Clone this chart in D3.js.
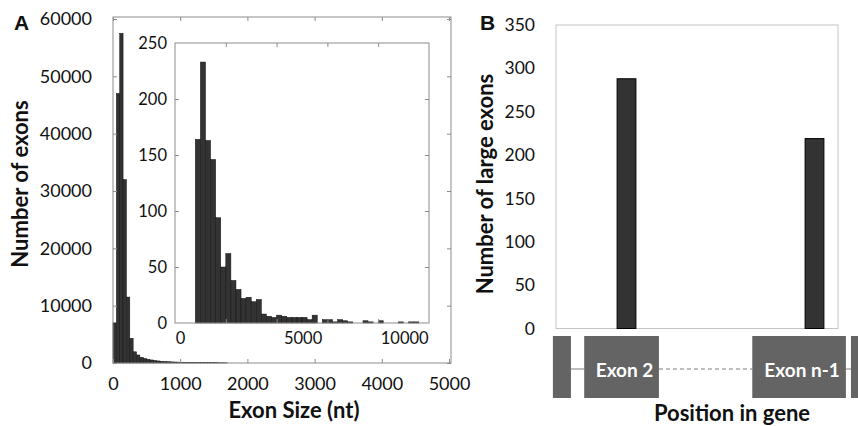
<!DOCTYPE html>
<html>
<head>
<meta charset="utf-8">
<script src="https://cdn.jsdelivr.net/npm/d3@7"></script>
<style>
  body { margin: 0; background: #fff; }
  svg text { font-family: Lato, "Open Sans", sans-serif; fill: #111; }
  .panel-letter { font-family: "Liberation Sans", Arial, sans-serif !important; font-weight: bold; }
  .title { font-weight: bold; }
</style>
</head>
<body>
<svg id="fig" width="858" height="426"></svg>
<script>
// ---- panel A: all exons, 50 nt bins starting at 0
const sizeBinWidth = 50
const sizeCounts = [7000, 47000, 57500, 32000, 11500, 4300, 1950, 1400, 1000, 800,
                    650, 530, 430, 360, 300, 260, 220, 190, 170, 150,
                    130, 115, 100, 90, 80, 70, 65, 60, 55, 50, 45, 40, 35, 30]
const sizeTicks = [0, 1000, 2000, 3000, 4000, 5000]
const countTicks = [0, 10000, 20000, 30000, 40000, 50000, 60000]

// ---- panel A inset: large exons, 250 nt bins starting at 1000
const largeBinStart = 1000
const largeBinWidth = 250
const largeCounts = [164, 233, 163, 146, 94, 50, 62, 38, 30, 22,
                     23, 19, 21, 8, 6, 5, 7, 6, 5, 5,
                     5, 5, 3, 7, 0, 3, 3, 1, 3, 2,
                     1, 0, 0, 2, 1, 0, 2, 0, 0, 0,
                     1, 0, 1, 1]
const largeCountTicks = [0, 50, 100, 150, 200, 250]
const largeSizeTicks = [2500, 5000, 7500, 10000]
const largeSizeLabels = [0, 5000, 10000]

// ---- panel B: position of large exons in the gene
const geneSlots = ['Exon 1', 'Exon 2', 'Intron a', 'Intron b', 'Intron c', 'Exon n-1']
const largeExonPos = ['Exon 2', 'Exon n-1']
const largeExonCounts = [288, 219]
const posCountTicks = [0, 50, 100, 150, 200, 250, 300, 350]

const svg = d3.select('#fig')
const frameGrey = '#8c8c8c'
const barFill = '#333'

// ================= panel A =================
const A = {left: 113, right: 451, top: 17, bottom: 363}
const xA = d3.scaleLinear().domain([0, 5000]).range([A.left, 449])
const yA = d3.scaleLinear().domain([0, 60000]).range([A.bottom, 19])

const gA = svg.append('g')

gA.append('g')
  .selectAll('rect')
  .data(sizeCounts)
  .enter().append('rect')
    .attr('x', (d, i) => xA(i * sizeBinWidth))
    .attr('width', (d, i) => xA((i + 1) * sizeBinWidth) - xA(i * sizeBinWidth))
    .attr('y', d => yA(d))
    .attr('height', d => yA(0) - yA(d))
    .attr('fill', barFill)
    .attr('stroke', '#111')
    .attr('stroke-width', 0.5)

// inward ticks on all four sides
function noLabels (axis) {
  return axis.tickSizeInner(-4).tickSizeOuter(0).tickFormat('')
}
const tickGroups = [
  ['translate(0,' + A.bottom + ')', noLabels(d3.axisBottom(xA).tickValues(sizeTicks))],
  ['translate(0,' + A.top + ')', noLabels(d3.axisTop(xA).tickValues(sizeTicks))],
  ['translate(' + A.left + ',0)', noLabels(d3.axisLeft(yA).tickValues(countTicks))],
  ['translate(' + A.right + ',0)', noLabels(d3.axisRight(yA).tickValues(countTicks))]
]
tickGroups.forEach(t => {
  const g = gA.append('g').attr('transform', t[0]).call(t[1])
  g.select('.domain').remove()
  g.selectAll('line').attr('stroke', frameGrey)
})

gA.append('rect')
  .attr('x', A.left).attr('y', A.top)
  .attr('width', A.right - A.left).attr('height', A.bottom - A.top)
  .attr('fill', 'none').attr('stroke', frameGrey)

const xAxisA = gA.append('g')
  .attr('transform', 'translate(0,' + A.bottom + ')')
  .call(d3.axisBottom(xA).tickValues(sizeTicks).tickSize(0).tickPadding(14).tickFormat(d3.format('d')))
const yAxisA = gA.append('g')
  .attr('transform', 'translate(' + A.left + ',0)')
  .call(d3.axisLeft(yA).tickValues(countTicks).tickSize(0).tickPadding(21).tickFormat(d3.format('d')))
;[xAxisA, yAxisA].forEach(g => {
  g.select('.domain').remove()
  g.selectAll('text').style('font-size', '18px').attr('fill', '#111')
})

// ---- inset
const I = {left: 175, right: 429, top: 43, bottom: 323}
const xI = d3.scaleLinear().domain([0, 12500]).range([I.left, I.right])
const yI = d3.scaleLinear().domain([0, 250]).range([I.bottom, I.top])

gA.append('rect')
  .attr('x', I.left).attr('y', I.top)
  .attr('width', I.right - I.left).attr('height', I.bottom - I.top)
  .attr('fill', '#fff')

gA.append('g')
  .selectAll('rect')
  .data(largeCounts)
  .enter().append('rect')
    .attr('x', (d, i) => xI(largeBinStart + i * largeBinWidth))
    .attr('width', xI(largeBinWidth) - xI(0))
    .attr('y', d => yI(d))
    .attr('height', d => yI(0) - yI(d))
    .attr('fill', barFill)
    .attr('stroke', '#111')
    .attr('stroke-width', 0.5)

const insetTicks = [
  ['translate(0,' + I.bottom + ')', noLabels(d3.axisBottom(xI).tickValues(largeSizeTicks))],
  ['translate(0,' + I.top + ')', noLabels(d3.axisTop(xI).tickValues(largeSizeTicks))],
  ['translate(' + I.left + ',0)', noLabels(d3.axisLeft(yI).tickValues(largeCountTicks.slice(1, -1)))],
  ['translate(' + I.right + ',0)', noLabels(d3.axisRight(yI).tickValues(largeCountTicks.slice(1, -1)))]
]
insetTicks.forEach(t => {
  const g = gA.append('g').attr('transform', t[0]).call(t[1])
  g.select('.domain').remove()
  g.selectAll('line').attr('stroke', frameGrey)
})

gA.append('rect')
  .attr('x', I.left).attr('y', I.top)
  .attr('width', I.right - I.left).attr('height', I.bottom - I.top)
  .attr('fill', 'none').attr('stroke', frameGrey)

const xAxisI = gA.append('g')
  .attr('transform', 'translate(0,' + I.bottom + ')')
  .call(d3.axisBottom(xI).tickValues(largeSizeLabels).tickSize(0).tickPadding(9).tickFormat(d3.format('d')))
// the labels in the figure sit a little to the right of their ticks
xAxisI.selectAll('text').attr('dx', d => d === 0 ? 5 : 26)
const yAxisI = gA.append('g')
  .attr('transform', 'translate(' + I.left + ',0)')
  .call(d3.axisLeft(yI).tickValues(largeCountTicks).tickSize(0).tickPadding(8))
;[xAxisI, yAxisI].forEach(g => {
  g.select('.domain').remove()
  g.selectAll('text').style('font-size', '16.5px').attr('fill', '#111')
})

svg.append('text').attr('class', 'panel-letter')
  .attr('x', 14).attr('y', 30).style('font-size', '21px').text('A')

svg.append('text').attr('class', 'title')
  .attr('transform', 'translate(28,184) rotate(-90)')
  .attr('text-anchor', 'middle').style('font-size', '22px')
  .text('Number of exons')

svg.append('text').attr('class', 'title')
  .attr('x', 294).attr('y', 418)
  .attr('text-anchor', 'middle').style('font-size', '22px')
  .text('Exon Size (nt)')

// ================= panel B =================
const B = {left: 556, right: 838, top: 25, bottom: 328.5}
const xB = d3.scaleBand().domain(geneSlots).range([B.left, B.right])
  .paddingInner(0.6).paddingOuter(0.3)
const yB = d3.scaleLinear().domain([0, 350]).range([B.bottom, B.top])

const gB = svg.append('g')

gB.append('rect')
  .attr('x', B.left).attr('y', B.top)
  .attr('width', B.right - B.left).attr('height', B.bottom - B.top)
  .attr('fill', 'none').attr('stroke', '#c4c4c4')

gB.append('g')
  .selectAll('rect')
  .data(largeExonPos)
  .enter().append('rect')
    .attr('x', d => xB(d))
    .attr('width', xB.bandwidth())
    .attr('y', (d, i) => yB(largeExonCounts[i]))
    .attr('height', (d, i) => yB(0) - yB(largeExonCounts[i]))
    .attr('fill', barFill)
    .attr('stroke', '#000')
    .attr('stroke-width', 1)

const yAxisB = gB.append('g')
  .attr('transform', 'translate(' + B.left + ',0)')
  .call(d3.axisLeft(yB).tickValues(posCountTicks).tickSize(0).tickPadding(21))
yAxisB.select('.domain').remove()
yAxisB.selectAll('text').style('font-size', '17.5px').attr('fill', '#111')

// gene sketch under the bars, in fractions of the plot width
const geneX = d3.scaleLinear().domain([0, 1]).range([B.left, B.right])
const geneLayout = [
  {name: '', from: -0.011, to: 0.053},
  {name: 'Exon 2', from: 0.100, to: 0.365},
  {name: 'Exon n-1', from: 0.696, to: 1.028},
  {name: '', from: 1.046, to: 1.12}
]
const geneTop = 336, geneBottom = 398, geneMid = 369

for (let k = 0; k < geneLayout.length - 1; k++) {
  gB.append('line')
    .attr('x1', geneX(geneLayout[k].to)).attr('x2', geneX(geneLayout[k + 1].from))
    .attr('y1', geneMid).attr('y2', geneMid)
    .attr('stroke', '#a8a8a8').attr('stroke-width', 1.5)
    .attr('stroke-dasharray', k === 1 ? '4,3' : null)
}

const exonBox = gB.append('g')
  .selectAll('g')
  .data(geneLayout)
  .enter().append('g')

exonBox.append('rect')
  .attr('x', d => geneX(d.from))
  .attr('width', d => geneX(d.to) - geneX(d.from))
  .attr('y', geneTop)
  .attr('height', geneBottom - geneTop)
  .attr('fill', '#646464')

exonBox.append('text')
  .attr('x', d => (geneX(d.from) + geneX(d.to)) / 2 + 3)
  .attr('y', 377)
  .attr('text-anchor', 'middle')
  .style('font-size', '19px')
  .style('font-weight', 'bold')
  .style('fill', '#fff')
  .text(d => d.name)

svg.append('text').attr('class', 'panel-letter')
  .attr('x', 480).attr('y', 30).style('font-size', '21px').text('B')

svg.append('text').attr('class', 'title')
  .attr('transform', 'translate(493,184) rotate(-90)')
  .attr('text-anchor', 'middle').style('font-size', '22px')
  .text('Number of large exons')

svg.append('text').attr('class', 'title')
  .attr('x', 732).attr('y', 421)
  .attr('text-anchor', 'middle').style('font-size', '22px')
  .text('Position in gene')
</script>
</body>
</html>
